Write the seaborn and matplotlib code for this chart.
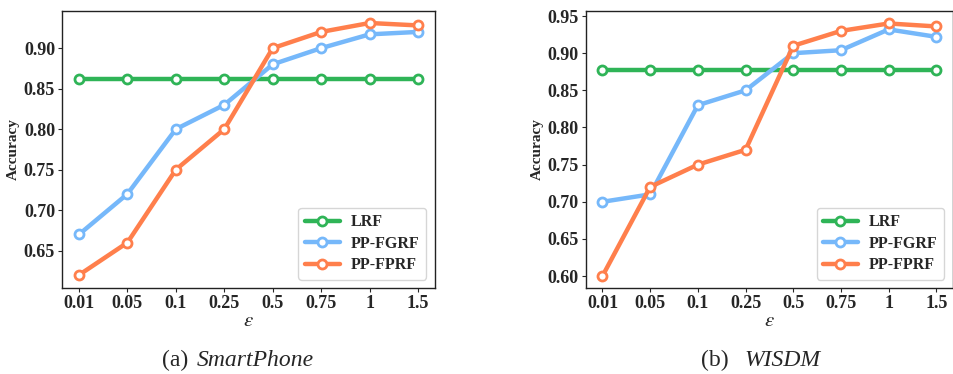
import numpy as np
import pandas as pd
import seaborn as sns
import matplotlib.pyplot as plt

eps_labels = ["0.01", "0.05", "0.1", "0.25", "0.5", "0.75", "1", "1.5"]
methods = ["LRF", "PP-FGRF", "PP-FPRF"]

# (a) SmartPhone
sp_lrf = [0.862] * 8
sp_fgrf = [0.67, 0.72, 0.80, 0.83, 0.88, 0.90, 0.917, 0.92]
sp_fprf = [0.62, 0.66, 0.75, 0.80, 0.90, 0.92, 0.931, 0.928]

# (b) WISDM
wi_lrf = [0.877] * 8
wi_fgrf = [0.70, 0.71, 0.83, 0.85, 0.90, 0.904, 0.932, 0.922]
wi_fprf = [0.60, 0.72, 0.75, 0.77, 0.91, 0.93, 0.94, 0.936]

colors = {"LRF": "#2fb457", "PP-FGRF": "#76b8fa", "PP-FPRF": "#ff7f4c"}

sns.set_theme(style="ticks")
plt.rcParams["font.family"] = ["Liberation Serif", "DejaVu Serif"]
plt.rcParams["mathtext.fontset"] = "stix"


def make_df(lrf, fgrf, fprf):
    rows = []
    for name, vals in zip(methods, [lrf, fgrf, fprf]):
        for i, v in enumerate(vals):
            rows.append({"pos": i, "Accuracy": v, "Method": name})
    return pd.DataFrame(rows)


def draw(ax, df, ylim, yticks):
    for name in methods:
        sub = df[df["Method"] == name]
        sns.lineplot(data=sub, x="pos", y="Accuracy", ax=ax, color=colors[name],
                     linewidth=3.2, marker="o", markersize=6.5,
                     markerfacecolor="white", markeredgecolor=colors[name],
                     markeredgewidth=2, label=name)
    ax.set_xlim(-0.35, 7.35)
    ax.set_ylim(*ylim)
    ax.set_yticks(yticks)
    ax.set_yticklabels([f"{t:.2f}" for t in yticks], fontweight="bold", fontsize=13)
    ax.set_xticks(range(len(eps_labels)))
    ax.set_xticklabels(eps_labels, fontweight="bold", fontsize=13)
    ax.set_xlabel(r"$\varepsilon$", fontsize=15, labelpad=0)
    ax.set_ylabel("Accuracy", fontweight="bold", fontsize=11, labelpad=3)
    for s in ax.spines.values():
        s.set_visible(True)
        s.set_color("#222222")
        s.set_linewidth(1.0)
    ax.tick_params(length=3, width=0.8, pad=2)
    leg = ax.legend(loc="lower right", fontsize=11.5, handlelength=2.2,
                    frameon=True, fancybox=True, borderpad=0.4,
                    labelspacing=0.35, handletextpad=0.7,
                    borderaxespad=0, bbox_to_anchor=(0.976, 0.03))
    leg.get_frame().set_edgecolor("#cccccc")
    for t in leg.get_texts():
        t.set_fontweight("bold")


fig = plt.figure(figsize=(9.54, 3.74), dpi=100)
ax1 = fig.add_axes([0.065, 0.23, 0.391, 0.741])
ax2 = fig.add_axes([0.614, 0.23, 0.385, 0.741])

draw(ax1, make_df(sp_lrf, sp_fgrf, sp_fprf), (0.604, 0.946),
     [0.65, 0.70, 0.75, 0.80, 0.85, 0.90])
draw(ax2, make_df(wi_lrf, wi_fgrf, wi_fprf), (0.584, 0.957),
     [0.60, 0.65, 0.70, 0.75, 0.80, 0.85, 0.90, 0.95])

fig.text(188 / 954, 0.037, "(a)", ha="right", va="center", fontsize=17)
fig.text(197 / 954, 0.037, "SmartPhone", ha="left", va="center", fontsize=17, style="italic")
fig.text(729 / 954, 0.037, "(b)", ha="right", va="center", fontsize=17)
fig.text(744 / 954, 0.037, "WISDM", ha="left", va="center", fontsize=17, style="italic")

fig.savefig("out.png", dpi=100)
